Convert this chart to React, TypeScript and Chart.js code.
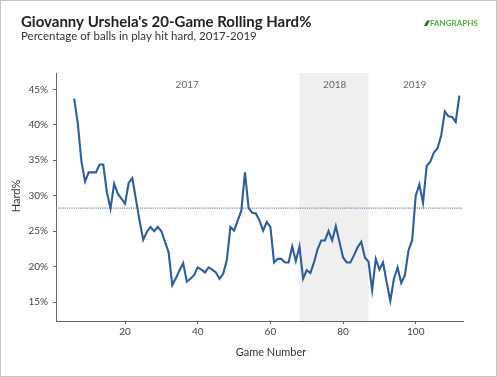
import React, { useEffect, useRef } from "react";
import { Chart, registerables } from "chart.js";

Chart.register(...registerables);

const gameNumbers = [
  6, 7, 8, 9, 10, 11, 12, 13, 14, 15, 16, 17, 18, 19, 20, 21, 22, 23, 24, 25,
  26, 27, 28, 29, 30, 31, 32, 33, 34, 35, 36, 37, 38, 39, 40, 41, 42, 43, 44, 45,
  46, 47, 48, 49, 50, 51, 52, 53, 54, 55, 56, 57, 58, 59, 60, 61, 62, 63, 64, 65,
  66, 67, 68, 69, 70, 71, 72, 73, 74, 75, 76, 77, 78, 79, 80, 81, 82, 83, 84, 85,
  86, 87, 88, 89, 90, 91, 92, 93, 94, 95, 96, 97, 98, 99, 100, 101, 102, 103, 104, 105,
  106, 107, 108, 109, 110, 111, 112,
];

const hardPct = [
  43.7, 40.2, 34.8, 32.0, 33.3, 33.3, 33.3, 34.4, 34.4, 30.5, 28.2, 31.7, 30.3, 29.6, 28.9, 31.8, 32.5, 29.5, 26.5, 23.8,
  24.9, 25.6, 25.0, 25.6, 25.0, 23.5, 22.0, 17.4, 18.4, 19.5, 20.5, 17.9, 18.3, 18.8, 19.9, 19.6, 19.2, 19.9, 19.6, 19.2,
  18.3, 19.0, 20.9, 25.6, 25.1, 26.5, 27.9, 33.3, 28.3, 27.6, 27.5, 26.5, 25.1, 26.3, 25.6, 20.6, 21.1, 21.1, 20.6, 20.6,
  22.85, 20.8, 22.85, 18.3, 19.5, 19.1, 20.6, 22.5, 23.7, 23.7, 25.0, 23.7, 25.7, 23.5, 21.3, 20.6, 20.6, 21.6, 22.75, 23.5,
  21.3, 20.7, 16.7, 21.1, 19.6, 20.6, 17.8, 15.2, 18.3, 19.9, 17.7, 18.8, 22.3, 23.7, 30.0, 31.6, 29.0, 34.2, 34.8, 36.1,
  36.7, 38.5, 41.9, 41.2, 41.1, 40.4, 44.1,
];

const averageHard = 28.25;
const seasonNames = ["2017", "2018", "2019"];
const seasonLabelGames = [37.1, 77.7, 99.7];
const shadedSeasonStart = 68;
const shadedSeasonEnd = 87;
const xTickValues = [20, 40, 60, 80, 100];
const yTickValues = [15, 20, 25, 30, 35, 40, 45];
const xMin = 1;
const xMax = 113;
const yMin = 12.35;
const yMax = 47.3;

const titleText = "Giovanny Urshela's 20-Game Rolling Hard%";
const subtitleText = "Percentage of balls in play hit hard, 2017-2019";
const logoText = "FANGRAPHS";
const yTitle = "Hard%";
const xTitle = "Game Number";

const FONT = "Lato, 'Open Sans', sans-serif";

const decorPlugin = {
  id: "decor",
  beforeDatasetsDraw(chart: any) {
    const { ctx, chartArea, scales } = chart;
    const x0 = scales.x.getPixelForValue(shadedSeasonStart);
    const x1 = scales.x.getPixelForValue(shadedSeasonEnd);
    ctx.save();
    ctx.fillStyle = "#efefef";
    ctx.fillRect(x0, chartArea.top, x1 - x0, chartArea.bottom - chartArea.top);
    ctx.fillStyle = "#666";
    ctx.font = `10px ${FONT}`;
    ctx.textAlign = "center";
    ctx.textBaseline = "alphabetic";
    seasonNames.forEach((s, i) => {
      ctx.fillText(s, scales.x.getPixelForValue(seasonLabelGames[i]), 87.5);
    });
    ctx.restore();
  },
  afterDraw(chart: any) {
    const { ctx } = chart;
    ctx.save();
    ctx.textBaseline = "alphabetic";
    ctx.textAlign = "left";
    ctx.fillStyle = "#222";
    ctx.font = `bold 15px ${FONT}`;
    ctx.fillText(titleText, 21, 26.5);
    ctx.fillStyle = "#333";
    ctx.font = `11.5px ${FONT}`;
    ctx.fillText(subtitleText, 21, 40);
    // logo
    ctx.fillStyle = "#2f6b2a";
    ctx.beginPath();
    ctx.moveTo(424, 26);
    ctx.lineTo(427, 20.5);
    ctx.lineTo(430, 20.5);
    ctx.lineTo(427, 26);
    ctx.closePath();
    ctx.fill();
    ctx.fillStyle = "#4caf3c";
    ctx.font = `bold 8px ${FONT}`;
    ctx.fillText(logoText, 430, 26);
    // axis titles
    ctx.fillStyle = "#333";
    ctx.font = `11px ${FONT}`;
    ctx.textAlign = "center";
    ctx.textBaseline = "middle";
    ctx.fillText(xTitle, 271, 352.5);
    ctx.translate(16, 196);
    ctx.rotate(-Math.PI / 2);
    ctx.fillText(yTitle, 0, 0);
    ctx.restore();
  },
};

export default function App() {
  const canvasRef = useRef<HTMLCanvasElement | null>(null);

  useEffect(() => {
    if (!canvasRef.current) return;
    const points = gameNumbers.map((g, i) => ({ x: g, y: hardPct[i] }));
    const chart = new Chart(canvasRef.current, {
      type: "line",
      data: {
        datasets: [
          {
            data: points,
            borderColor: "#2e5e98",
            borderWidth: 2.1,
            pointRadius: 0,
            tension: 0,
            fill: false,
            order: 1,
          },
          {
            data: [
              { x: xMin, y: averageHard },
              { x: xMax, y: averageHard },
            ],
            borderColor: "#6a8fbe",
            borderWidth: 1.3,
            borderDash: [1.2, 1],
            pointRadius: 0,
            fill: false,
            order: 2,
          },
        ],
      },
      options: {
        animation: false,
        responsive: true,
        maintainAspectRatio: false,
        layout: { padding: { top: 73, right: 34, left: 0, bottom: 0 } },
        plugins: {
          legend: { display: false },
          tooltip: { enabled: false },
          title: { display: false },
        },
        scales: {
          x: {
            type: "linear",
            min: xMin,
            max: xMax,
            afterBuildTicks: (s: any) => {
              s.ticks = xTickValues.map((v) => ({ value: v }));
            },
            afterFit: (s: any) => {
              s.height = 56;
            },
            grid: { drawOnChartArea: false, drawTicks: true, tickLength: 3, color: "#666" },
            border: { display: true, color: "#666", width: 1 },
            ticks: {
              color: "#444",
              font: { family: FONT, size: 10 },
              padding: 2,
              maxRotation: 0,
              autoSkip: false,
            },
          },
          y: {
            type: "linear",
            min: yMin,
            max: yMax,
            afterBuildTicks: (s: any) => {
              s.ticks = yTickValues.map((v) => ({ value: v }));
            },
            afterFit: (s: any) => {
              s.width = 56;
            },
            grid: { drawOnChartArea: false, drawTicks: true, tickLength: 3, color: "#666" },
            border: { display: true, color: "#666", width: 1 },
            ticks: {
              color: "#444",
              font: { family: FONT, size: 10 },
              padding: 5,
              autoSkip: false,
              callback: (v: any) => `${v}%`,
            },
          },
        },
      },
      plugins: [decorPlugin],
    });
    return () => chart.destroy();
  }, []);

  return (
    <>
      <div style={{ position: "fixed", left: 0, top: 0, width: 497, height: 377, background: "#fff" }}>
        <canvas ref={canvasRef} />
      </div>
      <div
        style={{
          position: "fixed",
          left: 0,
          top: 0,
          width: 497,
          height: 377,
          border: "1px solid #c4c4c4",
          boxSizing: "border-box",
          pointerEvents: "none",
        }}
      />
    </>
  );
}
